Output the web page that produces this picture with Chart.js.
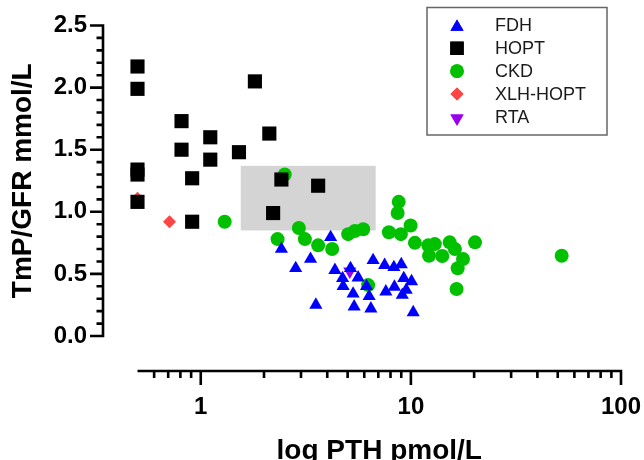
<!DOCTYPE html>
<html><head><meta charset="utf-8">
<script src="https://cdn.jsdelivr.net/npm/chart.js@4/dist/chart.umd.min.js"></script>
<style>html,body{margin:0;padding:0;background:#fff}canvas{display:block}</style>
</head><body>
<canvas id="c" width="644" height="460"></canvas>
<script>
// ---- data ----
const seriesNames = ['FDH', 'HOPT', 'CKD', 'XLH-HOPT', 'RTA'];

const fdhPTH = [2.42, 2.83, 3.33, 3.53, 4.15, 4.35, 4.73, 4.76, 5.16, 5.61, 5.31, 5.37, 6.15, 6.33, 6.45, 6.61, 7.5, 8.3, 9.0, 9.25, 10.07, 7.6, 8.35, 9.1, 9.5, 10.26];
const fdhTmP = [0.70, 0.545, 0.62, 0.25, 0.795, 0.53, 0.465, 0.40, 0.545, 0.47, 0.34, 0.236, 0.40, 0.32, 0.22, 0.61, 0.57, 0.553, 0.577, 0.465, 0.44, 0.357, 0.395, 0.33, 0.37, 0.19];

const hoptPTH = [0.5, 0.5, 0.5, 0.5, 0.5, 0.81, 0.81, 0.91, 0.91, 1.11, 1.11, 1.52, 1.81, 2.12, 2.42, 3.62, 2.21];
const hoptTmP = [2.17, 1.99, 1.34, 1.30, 1.08, 1.73, 1.50, 1.27, 0.92, 1.60, 1.42, 1.48, 2.05, 1.63, 1.26, 1.21, 0.99];

const ckdPTH = [1.30, 2.51, 2.32, 2.93, 3.13, 3.62, 4.22, 5.03, 5.41, 5.93, 6.26, 8.75, 8.65, 7.86, 8.96, 9.97, 10.45, 12.1, 13.0, 12.2, 14.1, 15.3, 16.2, 17.7, 16.7, 16.5, 20.2, 52.2];
const ckdTmP = [0.92, 1.30, 0.78, 0.87, 0.78, 0.73, 0.70, 0.82, 0.845, 0.86, 0.41, 1.08, 0.99, 0.835, 0.82, 0.89, 0.75, 0.73, 0.74, 0.646, 0.644, 0.754, 0.70, 0.62, 0.545, 0.378, 0.754, 0.646];

const xlhPTH = [0.5, 0.71];
const xlhTmP = [1.11, 0.92];

const rtaPTH = [5.12];
const rtaTmP = [0.52];

// normal reference range (shaded box)
const normalPTH = [1.55, 6.8];
const normalTmP = [0.85, 1.37];

// axis ticks
const yTickValues = [0, 0.5, 1.0, 1.5, 2.0, 2.5];
const yMinorTicks = [0.1, 0.2, 0.3, 0.4, 0.6, 0.7, 0.8, 0.9, 1.1, 1.2, 1.3, 1.4, 1.6, 1.7, 1.8, 1.9, 2.1, 2.2, 2.3, 2.4];
const xTickValues = [1, 10, 100];
const xMinorTicks = [0.6, 0.7, 0.8, 0.9, 2, 3, 4, 5, 6, 7, 8, 9, 20, 30, 40, 50, 60, 70, 80, 90];

// ---- helpers ----
const pts = (xs, ys) => xs.map((x, i) => ({x: x, y: ys[i]}));
const FONT = '"Liberation Sans", Arial, Helvetica, sans-serif';

function drawMarker(ctx, style, r, rot, x, y, color) {
  ctx.save();
  ctx.fillStyle = color;
  if (window.Chart && Chart.helpers && Chart.helpers.drawPoint) {
    ctx.strokeStyle = color; ctx.lineWidth = 0;
    Chart.helpers.drawPoint(ctx, {pointStyle: style, radius: r, rotation: rot, borderWidth: 0}, x, y);
    ctx.fill();
  }
  ctx.restore();
}

const shadedBox = {
  id: 'shadedBox',
  beforeDatasetsDraw(chart) {
    const {ctx, scales: {x, y}} = chart;
    const x0 = x.getPixelForValue(normalPTH[0]), x1 = x.getPixelForValue(normalPTH[1]);
    const y0 = y.getPixelForValue(normalTmP[1]), y1 = y.getPixelForValue(normalTmP[0]);
    ctx.save();
    ctx.fillStyle = '#d4d4d4';
    ctx.fillRect(x0, y0, x1 - x0, y1 - y0);
    ctx.restore();
  }
};

const offsetAxes = {
  id: 'offsetAxes',
  afterDraw(chart) {
    const {ctx, scales: {x, y}, chartArea} = chart;
    const lw = 2.6;
    ctx.save();
    ctx.strokeStyle = '#000';
    ctx.lineWidth = lw;
    ctx.lineCap = 'butt';
    // y axis, detached to the left
    const ax = chartArea.left - 34.5;
    const yTop = y.getPixelForValue(2.5), yBot = y.getPixelForValue(0);
    ctx.beginPath();
    ctx.moveTo(ax, yBot + lw / 2); ctx.lineTo(ax, yTop - lw / 2);
    yTickValues.forEach(v => { const p = y.getPixelForValue(v); ctx.moveTo(ax + lw / 2, p); ctx.lineTo(ax - 13, p); });
    yMinorTicks.forEach(v => { const p = y.getPixelForValue(v); ctx.moveTo(ax + lw / 2, p); ctx.lineTo(ax - 6.5, p); });
    ctx.stroke();
    // x axis, detached below
    const ay = chartArea.bottom + 35;
    const xL = x.getPixelForValue(0.5), xR = x.getPixelForValue(100);
    ctx.beginPath();
    ctx.moveTo(xL, ay); ctx.lineTo(xR + lw / 2, ay);
    xTickValues.forEach(v => { const p = x.getPixelForValue(v); ctx.moveTo(p, ay - lw / 2); ctx.lineTo(p, ay + 14); });
    xMinorTicks.forEach(v => { const p = x.getPixelForValue(v); ctx.moveTo(p, ay - lw / 2); ctx.lineTo(p, ay + 7); });
    ctx.stroke();
    ctx.restore();
  }
};

const boxedLegend = {
  id: 'boxedLegend',
  afterDraw(chart) {
    const ctx = chart.ctx;
    ctx.save();
    ctx.strokeStyle = '#666';
    ctx.lineWidth = 1.5;
    ctx.strokeRect(427, 7.5, 180, 127.5);
    ctx.font = '18px ' + FONT;
    ctx.textBaseline = 'middle';
    ctx.textAlign = 'left';
    chart.data.datasets.forEach((ds, i) => {
      const cy = 25.5 + i * 22.8;
      drawMarker(ctx, ds.pointStyle, ds.legendRadius, ds.rotation || 0, 457, cy + (ds.pointStyle === 'triangle' ? 1.5 : 0), ds.backgroundColor);
      ctx.fillStyle = '#1a1a1a';
      ctx.fillText(ds.label, 495, cy + 1);
    });
    ctx.restore();
  }
};

const mk = (label, xs, ys, style, color, r, legendR, rot) => ({
  label: label,
  data: pts(xs, ys),
  pointStyle: style,
  rotation: rot || 0,
  pointRadius: r,
  pointHoverRadius: r,
  backgroundColor: color,
  borderColor: color,
  borderWidth: 0,
  legendRadius: legendR,
  clip: false
});

const zeroPad = s => { s.paddingTop = 0; s.paddingBottom = 0; s.paddingLeft = 0; s.paddingRight = 0; };

new Chart(document.getElementById('c'), {
  type: 'scatter',
  data: {
    datasets: [
      mk(seriesNames[0], fdhPTH, fdhTmP, 'triangle', '#0000ff', 7.6, 7.6),
      mk(seriesNames[1], hoptPTH, hoptTmP, 'rect', '#000000', 10, 9.5),
      mk(seriesNames[2], ckdPTH, ckdTmP, 'circle', '#00c000', 7, 6.8),
      mk(seriesNames[3], xlhPTH, xlhTmP, 'rectRot', '#ff4444', 6.5, 6.5),
      mk(seriesNames[4], rtaPTH, rtaTmP, 'triangle', '#9a00f0', 7.6, 7.6, 180)
    ]
  },
  options: {
    responsive: false,
    animation: false,
    devicePixelRatio: 1,
    layout: {padding: {left: 0, right: 23, top: 25.5, bottom: 0}},
    plugins: {legend: {display: false}, tooltip: {enabled: false}},
    scales: {
      x: {
        type: 'logarithmic',
        position: 'bottom',
        min: 0.5,
        max: 100,
        afterBuildTicks: s => { s.ticks = xTickValues.map(v => ({value: v, major: true})); },
        afterFit: s => { s.height = 124; zeroPad(s); },
        grid: {display: false, drawTicks: true, tickLength: 57},
        border: {display: false},
        ticks: {
          color: '#000', padding: 0, autoSkip: false, maxRotation: 0,
          font: {family: FONT, size: 24, weight: 'bold'},
          callback: v => String(v)
        },
        title: {
          display: true, text: 'log PTH pmol/L', color: '#000',
          font: {family: FONT, size: 28, weight: 'bold', lineHeight: 1.2},
          padding: {top: 0, bottom: -8}
        }
      },
      y: {
        type: 'linear',
        position: 'left',
        min: 0,
        max: 2.5,
        afterBuildTicks: s => { s.ticks = yTickValues.map(v => ({value: v})); },
        afterFit: s => { s.width = 137.5; zeroPad(s); },
        grid: {display: false, drawTicks: true, tickLength: 50.5},
        border: {display: false},
        ticks: {
          color: '#000', padding: 0,
          font: {family: FONT, size: 24, weight: 'bold'},
          callback: v => Number(v).toFixed(1)
        },
        title: {
          display: true, text: 'TmP/GFR mmol/L', color: '#000',
          font: {family: FONT, size: 28, weight: 'bold', lineHeight: 1.2},
          padding: {top: 6.5, bottom: 0}
        }
      }
    }
  },
  plugins: [shadedBox, offsetAxes, boxedLegend]
});
</script>
</body></html>
